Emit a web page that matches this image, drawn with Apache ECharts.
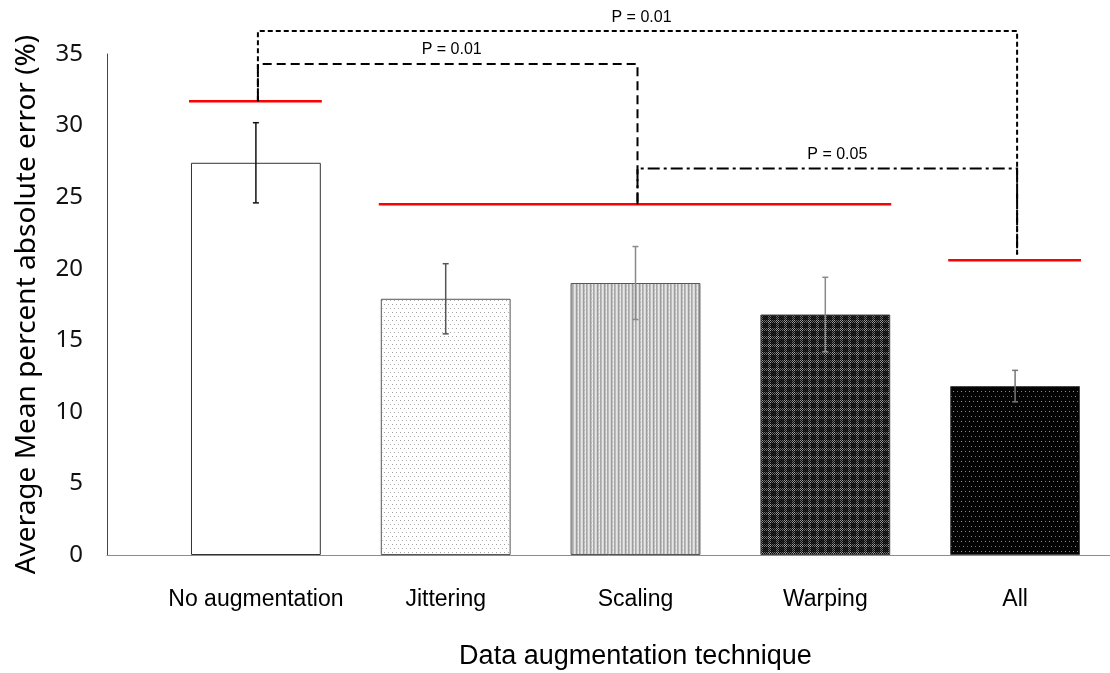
<!DOCTYPE html>
<html>
<head>
<meta charset="utf-8">
<script src="https://cdn.jsdelivr.net/npm/echarts@6/dist/echarts.min.js"></script>
<style>
html, body { margin: 0; padding: 0; background: #ffffff; }
#chart { width: 1110px; height: 673px; }
</style>
</head>
<body>
<div id="chart"></div>
<script>
// Average MAPE per augmentation technique, with standard error
const categories = ['No augmentation', 'Jittering', 'Scaling', 'Warping', 'All'];
const meanError = [27.4, 17.9, 19.0, 16.8, 11.8];
const stdError = [2.8, 2.45, 2.55, 2.6, 1.1];
const yTickValues = [0, 5, 10, 15, 20, 25, 30, 35];

// Homogeneous groups (red underline): first bar, last bar, height
const groupFrom = [0, 1, 4];
const groupTo = [0, 3, 4];
const groupLevel = [31.7, 24.5, 20.6];

// Pairwise comparisons between groups
const pairFrom = [0, 0, 2];
const pairTo = [4, 2, 4];
const pairLevel = [36.6, 34.3, 27.0];
const pairLeftDrop = [31.7, 31.7, 24.5];
const pairRightDrop = [21.0, 24.5, 21.0];
const pairLabels = ['P = 0.01', 'P = 0.01', 'P = 0.05'];

// ---- fill patterns ----
function makeTile(w, h, paint) {
  const c = document.createElement('canvas');
  c.width = w; c.height = h;
  const ctx = c.getContext('2d');
  paint(ctx, w, h);
  return { image: c, repeat: 'repeat' };
}
function px(ctx, x, y, col) { ctx.fillStyle = col; ctx.fillRect(x, y, 1, 1); }

const dotsLight = makeTile(8, 8, (ctx, w, h) => {
  ctx.fillStyle = '#ffffff'; ctx.fillRect(0, 0, w, h);
  px(ctx, 0, 0, '#a0a0a0'); px(ctx, 4, 0, '#b0b0b0');
  px(ctx, 2, 4, '#a8a8a8'); px(ctx, 6, 4, '#b8b8b8');
});
const stripes = makeTile(7, 4, (ctx, w, h) => {
  const cols = ['#e6e6e6', '#d6d6d6', '#9c9c9c', '#c4c4c4', '#ececec', '#a8a8a8', '#bcbcbc'];
  for (let x = 0; x < w; x++) { ctx.fillStyle = cols[x]; ctx.fillRect(x, 0, 1, h); }
  px(ctx, 3, 2, '#b0b0b0'); px(ctx, 4, 1, '#d8d8d8');
});
const plaid = makeTile(8, 8, (ctx, w, h) => {
  ctx.fillStyle = '#0a0a0a'; ctx.fillRect(0, 0, w, h);
  for (let y = 0; y < h; y++) {
    for (let x = 0; x < w; x++) {
      const bandX = x < 3, bandY = y < 3;
      if ((x + y) % 2 === 0) {
        if (bandX && bandY) px(ctx, x, y, '#a0a0a0');
        else if (bandX || bandY) px(ctx, x, y, '#6e6e6e');
        else px(ctx, x, y, '#262626');
      }
    }
  }
});
const dotsDark = makeTile(8, 10, (ctx, w, h) => {
  ctx.fillStyle = '#030303'; ctx.fillRect(0, 0, w, h);
  px(ctx, 1, 1, '#9a9a9a'); px(ctx, 5, 1, '#7a7a7a');
  px(ctx, 3, 6, '#8a8a8a'); px(ctx, 7, 6, '#6a6a6a');
});
const barFills = ['#ffffff', dotsLight, stripes, plaid, dotsDark];
const barBorders = ['#333333', '#555555', '#555555', '#444444', '#444444'];
const errColors = ['#111111', '#555555', '#8a8a8a', '#8a8a8a', '#777777'];

const BAR_RATIO = 0.684;
const FONT_SANS = "'Liberation Sans', Arial, sans-serif";
const FONT_UI = "'Noto Sans', 'Open Sans', sans-serif";
const FONT_NARROW = "'Liberation Sans Narrow', 'Liberation Sans', Arial, sans-serif";

const chart = echarts.init(document.getElementById('chart'), null, { renderer: 'canvas' });

const option = {
  animation: false,
  backgroundColor: '#ffffff',
  grid: [
    { left: 107, right: 0, top: 54, bottom: 118, containLabel: false, outerBoundsMode: 'none' },
    { left: 161, right: 0, top: 54, bottom: 118, containLabel: false, outerBoundsMode: 'none' }
  ],
  xAxis: [
    {
      type: 'value', gridIndex: 0, min: 0, max: 1,
      axisLine: { show: true, lineStyle: { color: '#8c8c8c', width: 1 } },
      axisTick: { show: false }, axisLabel: { show: false }, splitLine: { show: false }
    },
    {
      type: 'category', gridIndex: 1, data: categories,
      axisLine: { show: false }, axisTick: { show: false }, splitLine: { show: false },
      axisLabel: { interval: 0, color: '#000000', fontSize: 23, fontFamily: FONT_SANS, margin: 33 },
      name: 'Data augmentation technique', nameLocation: 'middle', nameGap: 88,
      nameTextStyle: { color: '#000000', fontSize: 27, fontFamily: FONT_SANS }
    }
  ],
  yAxis: [
    {
      type: 'value', gridIndex: 0, min: yTickValues[0], max: yTickValues[yTickValues.length - 1], interval: 5,
      axisLine: { show: true, lineStyle: { color: '#444444', width: 1 } },
      axisTick: { show: false }, splitLine: { show: false },
      axisLabel: { color: '#111111', fontSize: 24, fontFamily: FONT_UI, margin: 24 },
      name: 'Average Mean percent absolute error (%)', nameLocation: 'middle', nameGap: 66,
      nameTextStyle: { color: '#000000', fontSize: 28, fontFamily: FONT_UI }
    },
    {
      type: 'value', gridIndex: 1, min: 0, max: 35, show: false
    }
  ],
  series: [
    {
      type: 'bar', xAxisIndex: 1, yAxisIndex: 1,
      barWidth: (BAR_RATIO * 100) + '%',
      data: meanError.map((v, i) => ({
        value: v,
        itemStyle: { color: barFills[i], borderColor: barBorders[i], borderWidth: 1 }
      }))
    },
    {
      // error bars
      type: 'custom', xAxisIndex: 1, yAxisIndex: 1, z: 5,
      data: meanError.map((v, i) => [i, v - stdError[i], v + stdError[i]]),
      renderItem: function (params, api) {
        const i = api.value(0);
        const lo = api.coord([i, api.value(1)]);
        const hi = api.coord([i, api.value(2)]);
        const col = errColors[params.dataIndex];
        const cap = 3;
        const st = { stroke: col, lineWidth: 1.5 };
        return {
          type: 'group',
          children: [
            { type: 'line', shape: { x1: hi[0], y1: hi[1], x2: lo[0], y2: lo[1] }, style: st },
            { type: 'line', shape: { x1: hi[0] - cap, y1: hi[1], x2: hi[0] + cap, y2: hi[1] }, style: st },
            { type: 'line', shape: { x1: lo[0] - cap, y1: lo[1], x2: lo[0] + cap, y2: lo[1] }, style: st }
          ]
        };
      }
    },
    {
      // red group underlines
      type: 'custom', xAxisIndex: 1, yAxisIndex: 1, z: 6, clip: false,
      data: groupLevel.map((v, k) => [groupFrom[k], groupTo[k], v]),
      renderItem: function (params, api) {
        const band = api.size([1, 0])[0];
        const half = band * BAR_RATIO / 2;
        const a = api.coord([api.value(0), api.value(2)]);
        const b = api.coord([api.value(1), api.value(2)]);
        return {
          type: 'line',
          shape: { x1: a[0] - half - 2, y1: a[1], x2: b[0] + half + 1, y2: b[1] },
          style: { stroke: '#ff0000', lineWidth: 2.5 }
        };
      }
    },
    {
      // significance brackets
      type: 'custom', xAxisIndex: 1, yAxisIndex: 1, z: 7, clip: false,
      data: pairLevel.map((v, k) => [pairFrom[k], pairTo[k], v, pairLeftDrop[k], pairRightDrop[k]]),
      renderItem: function (params, api) {
        const k = params.dataIndex;
        const dashes = [[5, 3], [9, 5], [12, 4, 3, 4]];
        const st = { stroke: '#000000', lineWidth: 2, lineDash: dashes[k], fill: null };
        const f = api.value(0), t = api.value(1), lvl = api.value(2);
        const pL = api.coord([f, lvl]), pR = api.coord([t, lvl]);
        const dL = api.coord([f, api.value(3)]), dR = api.coord([t, api.value(4)]);
        const xL = pL[0] + 2, xR = pR[0] + 2;
        return {
          type: 'group',
          children: [
            { type: 'polyline', shape: { points: [[xL, dL[1]], [xL, pL[1]], [xR, pR[1]], [xR, dR[1]]] }, style: st },
            {
              type: 'text',
              style: {
                text: pairLabels[k], x: (xL + xR) / 2 + (k === 2 ? 10 : 4), y: pL[1] - 6,
                align: 'center', verticalAlign: 'bottom',
                fill: '#000000', font: '16px ' + FONT_NARROW
              }
            }
          ]
        };
      }
    }
  ]
};

chart.setOption(option);
</script>
</body>
</html>
